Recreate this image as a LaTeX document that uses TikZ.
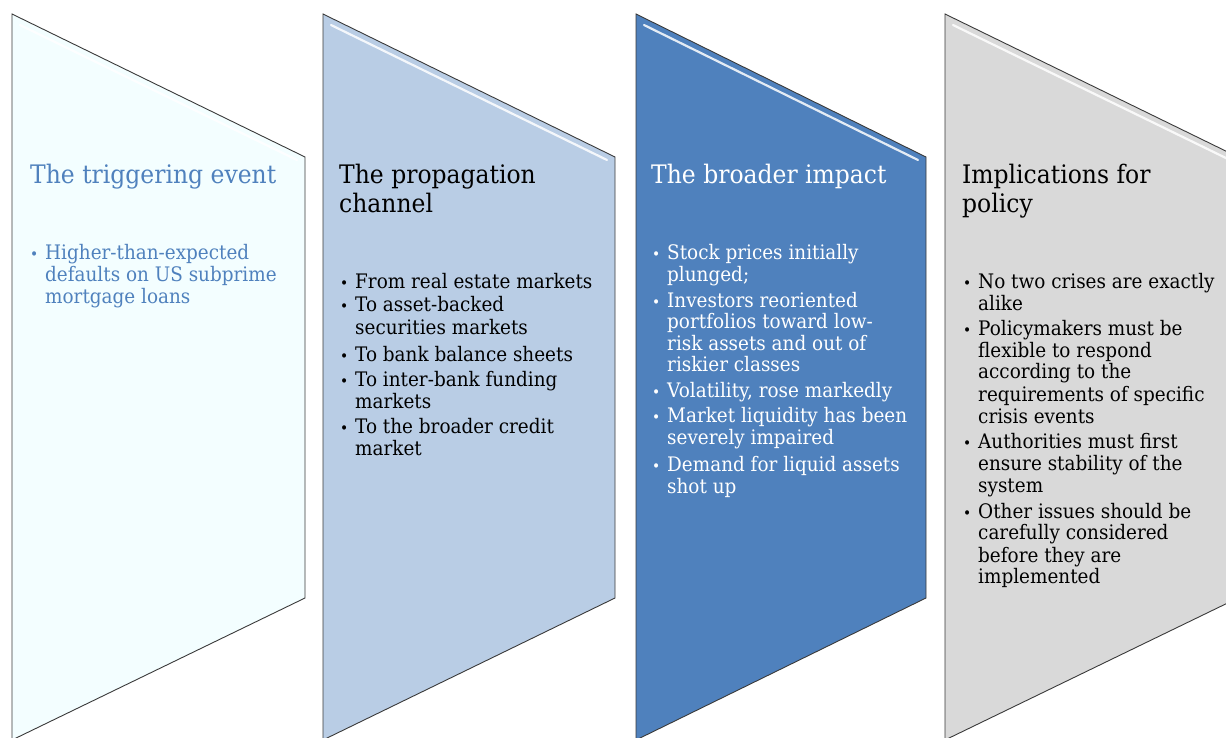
\documentclass[tikz,border=0pt]{standalone}
\usepackage{fontspec}
\setmainfont{DejaVu Serif}[FakeStretch=0.92]
\definecolor{fillA}{HTML}{F3FEFF}
\definecolor{fillB}{HTML}{B9CDE5}
\definecolor{fillC}{HTML}{4F81BD}
\definecolor{fillD}{HTML}{D9D9D9}
\definecolor{txtA}{HTML}{4F81BD}
\definecolor{edge}{HTML}{3A3A3A}
\begin{document}
\begin{tikzpicture}[x=1pt,y=-1pt,
  panel/.style={draw=edge, line width=0.9pt, line join=miter},
  gloss/.style={white, line width=2.2pt, opacity=0.85, line cap=round},
  head/.style={anchor=base west, inner sep=0pt, font=\fontsize{25.5}{29}\selectfont},
  txt/.style={anchor=base west, inner sep=0pt, font=\fontsize{20}{22}\selectfont},
  bul/.style={anchor=base west, inner sep=0pt, font=\fontsize{15}{22}\selectfont}]
\useasboundingbox (0,0) rectangle (1226,738);
\clip (0,0) rectangle (1226,738);
% panels
\foreach \x/\w/\c/\n in {12/293/fillA/pA, 323/292/fillB/pB, 636/290/fillC/pC, 945/293/fillD/pD}{
  \filldraw[panel, fill=\c] (\x,14) -- (\x+\w,157) -- (\x+\w,598) -- (\x,740) -- cycle;
  \draw[gloss] (\x+8,25) -- (\x+\w-8,160);
}
% panel 1
\node[head, text=txtA] (h1) at (30,184) {The triggering event};
\foreach \y/\b/\t [count=\i] in {259/1/Higher-than-expected, 281/0/defaults on US subprime, 303/0/mortgage loans}{
  \node[txt, text=txtA] (a\i) at (45,\y) {\t};
  \ifnum\b=1 \node[bul, text=txtA] (ab\i) at (30,\y) {\textbullet}; \fi
}
% panel 2
\node[head] (h2) at (339,184) {The propagation};
\node[head] (h2b) at (339,213) {channel};
\foreach \y/\b/\t [count=\i] in {288/1/From real estate markets, 311/1/To asset-backed, 334/0/securities markets, 361/1/To bank balance sheets, 386/1/To inter-bank funding, 408/0/markets, 433/1/To the broader credit, 455/0/market}{
  \node[txt] (b\i) at (355,\y) {\t};
  \ifnum\b=1 \node[bul] (bb\i) at (340,\y) {\textbullet}; \fi
}
% panel 3
\node[head, text=white] (h3) at (651,184) {The broader impact};
\foreach \y/\b/\t [count=\i] in {259/1/Stock prices initially, 281/0/plunged;, 307/1/Investors reoriented, 328/0/portfolios toward low-, 350/0/risk assets and out of, 371/0/riskier classes, {397/1/Volatility, rose markedly}, 422/1/Market liquidity has been, 444/0/severely impaired, 471/1/Demand for liquid assets, 493/0/shot up}{
  \node[txt, text=white] (c\i) at (667,\y) {\t};
  \ifnum\b=1 \node[bul, text=white] (cb\i) at (652,\y) {\textbullet}; \fi
}
% panel 4
\node[head] (h4) at (962,184) {Implications for};
\node[head] (h4b) at (962,213) {policy};
\foreach \y/\b/\t [count=\i] in {288/1/No two crises are exactly, 310/0/alike, 335/1/Policymakers must be, 357/0/flexible to respond, 378/0/according to the, 401/0/requirements of specific, 423/0/crisis events, 448/1/Authorities must first, 470/0/ensure stability of the, 492/0/system, 518/1/Other issues should be, 539/0/carefully considered, 562/0/before they are, 583/0/implemented}{
  \node[txt] (d\i) at (978,\y) {\t};
  \ifnum\b=1 \node[bul] (db\i) at (963,\y) {\textbullet}; \fi
}
\end{tikzpicture}
\end{document}
